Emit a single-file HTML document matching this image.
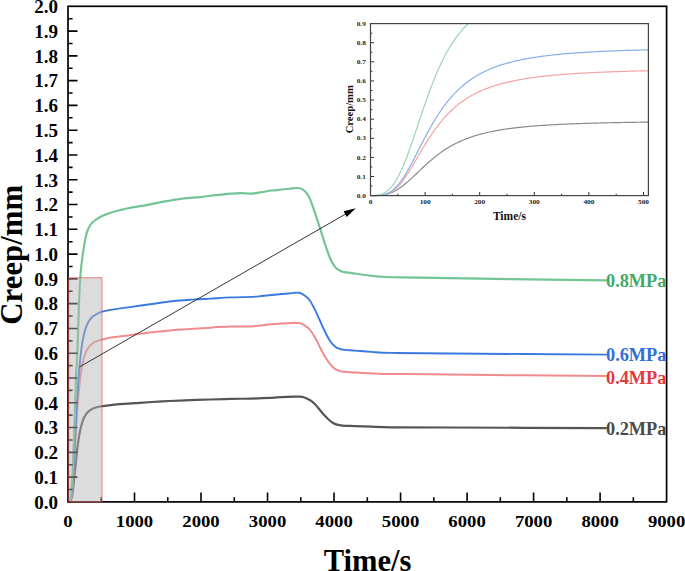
<!DOCTYPE html><html><head><meta charset="utf-8"><style>
html,body{margin:0;padding:0;background:#fff;width:685px;height:571px;overflow:hidden}
svg{display:block}
text{font-family:"Liberation Serif",serif;font-weight:bold}
</style></head><body>
<svg width="685" height="571" viewBox="0 0 685 571">
<g fill="none" stroke-linejoin="round" stroke-linecap="round">
<path d="M69.2,501.9C69.27,501.9 69.47,501.9 69.6,501.87C69.73,501.84 69.87,501.8 70,501.71C70.13,501.62 70.26,501.51 70.4,501.33C70.53,501.15 70.66,500.93 70.8,500.64C70.93,500.35 71.06,500.01 71.2,499.59C71.33,499.17 71.46,498.68 71.59,498.12C71.73,497.56 71.86,496.93 71.99,496.22C72.13,495.51 72.26,494.73 72.39,493.88C72.53,493.03 72.66,492.1 72.79,491.12C72.92,490.13 73.06,489.08 73.19,487.98C73.32,486.88 73.46,485.71 73.59,484.51C73.72,483.31 73.86,482.06 73.99,480.79C74.12,479.52 74.25,478.21 74.39,476.89C74.52,475.57 74.65,474.22 74.79,472.88C74.92,471.53 75.05,470.18 75.19,468.83C75.32,467.49 75.45,466.14 75.59,464.82C75.72,463.49 75.85,462.17 75.98,460.88C76.12,459.59 76.25,458.32 76.38,457.08C76.52,455.84 76.65,454.62 76.78,453.43C76.92,452.25 77.05,451.1 77.18,449.98C77.31,448.86 77.45,447.77 77.58,446.72C77.71,445.66 77.85,444.65 77.98,443.66C78.11,442.68 78.25,441.73 78.38,440.82C78.51,439.9 78.64,439.02 78.78,438.17C78.91,437.33 79.04,436.51 79.18,435.73C79.31,434.94 79.44,434.19 79.58,433.47C79.71,432.75 79.84,432.06 79.97,431.39C80.11,430.73 80.24,430.09 80.37,429.48C80.51,428.87 80.64,428.28 80.77,427.72C80.91,427.16 81.04,426.62 81.17,426.1C81.31,425.59 81.44,425.09 81.57,424.62C81.7,424.14 81.84,423.69 81.97,423.25C82.1,422.82 82.24,422.4 82.37,422C82.5,421.6 82.64,421.22 82.77,420.85C82.9,420.48 83.03,420.13 83.17,419.79C83.3,419.45 83.43,419.13 83.57,418.82C83.7,418.51 83.83,418.21 83.97,417.92C84.1,417.63 84.23,417.36 84.36,417.09C84.5,416.83 84.63,416.58 84.76,416.33C84.9,416.09 85.03,415.85 85.16,415.63C85.3,415.4 85.43,415.19 85.56,414.98C85.69,414.77 85.83,414.57 85.96,414.37C86.09,414.18 86.23,414 86.36,413.82C86.49,413.64 86.63,413.47 86.76,413.3C86.89,413.13 87.02,412.97 87.16,412.82C87.29,412.66 87.42,412.52 87.56,412.37C87.69,412.23 87.82,412.09 87.96,411.96C88.09,411.83 88.22,411.7 88.36,411.57C88.49,411.45 88.62,411.33 88.75,411.21C88.89,411.1 88.87,411.09 89.15,410.88C89.44,410.66 90.04,410.2 90.48,409.91C90.93,409.62 91.37,409.37 91.81,409.13C92.26,408.89 92.7,408.69 93.14,408.5C93.59,408.3 94.03,408.14 94.47,407.98C94.92,407.82 95.36,407.68 95.8,407.55C96.25,407.42 96.09,407.41 97.13,407.19C98.18,406.96 98.81,406.66 102.1,406.2C105.39,405.74 110.63,404.97 116.9,404.4C123.17,403.83 132.12,403.3 139.7,402.8C147.28,402.3 154.82,401.82 162.4,401.4C169.98,400.98 177.2,400.62 185.2,400.3C193.2,399.98 202.78,399.73 210.4,399.5C218.02,399.27 224.08,399.05 230.9,398.9C237.72,398.75 244.78,398.77 251.3,398.6C257.82,398.43 265.72,398.12 270,397.9C274.28,397.68 274.08,397.48 277,397.3C279.92,397.12 284.5,396.92 287.5,396.8C290.5,396.68 293.05,396.62 295,396.6C296.95,396.58 297.72,396.53 299.2,396.65C300.68,396.77 302.53,396.94 303.9,397.3C305.27,397.66 306.25,398.25 307.4,398.8C308.55,399.35 309.52,399.68 310.8,400.6C312.08,401.52 313.65,402.82 315.1,404.3C316.55,405.78 318.03,407.75 319.5,409.5C320.97,411.25 322.43,413.18 323.9,414.8C325.37,416.42 326.83,417.88 328.3,419.2C329.77,420.52 331.25,421.8 332.7,422.7C334.15,423.6 335.4,424.13 337,424.6C338.6,425.07 339.3,425.3 342.3,425.54C345.3,425.78 350.17,425.86 355,426.05C359.83,426.24 365.18,426.49 371.3,426.7C377.42,426.91 378.58,427.17 391.7,427.3C404.82,427.43 414.28,427.37 450,427.5C485.72,427.63 580,428 606,428.1" stroke="#555555" stroke-width="2.2"/>
<path d="M69.2,501.9C69.27,501.89 69.47,501.91 69.6,501.86C69.73,501.82 69.87,501.77 70,501.63C70.13,501.49 70.26,501.32 70.4,501.04C70.53,500.76 70.66,500.42 70.8,499.95C70.93,499.49 71.06,498.93 71.2,498.24C71.33,497.56 71.46,496.76 71.59,495.83C71.73,494.89 71.86,493.83 71.99,492.64C72.13,491.45 72.26,490.12 72.39,488.67C72.53,487.22 72.66,485.63 72.79,483.93C72.92,482.24 73.06,480.41 73.19,478.5C73.32,476.59 73.46,474.55 73.59,472.46C73.72,470.37 73.86,468.17 73.99,465.94C74.12,463.71 74.25,461.4 74.39,459.08C74.52,456.75 74.65,454.38 74.79,452.01C74.92,449.64 75.05,447.25 75.19,444.88C75.32,442.51 75.45,440.14 75.59,437.8C75.72,435.47 75.85,433.15 75.98,430.89C76.12,428.62 76.25,426.39 76.38,424.21C76.52,422.04 76.65,419.91 76.78,417.84C76.92,415.77 77.05,413.76 77.18,411.81C77.31,409.87 77.45,407.98 77.58,406.16C77.71,404.34 77.85,402.58 77.98,400.88C78.11,399.19 78.25,397.56 78.38,395.99C78.51,394.42 78.64,392.92 78.78,391.47C78.91,390.03 79.04,388.64 79.18,387.31C79.31,385.98 79.44,384.71 79.58,383.49C79.71,382.27 79.84,381.1 79.97,379.98C80.11,378.87 80.24,377.8 80.37,376.78C80.51,375.75 80.64,374.78 80.77,373.84C80.91,372.9 81.04,372.01 81.17,371.16C81.31,370.3 81.44,369.49 81.57,368.7C81.7,367.92 81.84,367.17 81.97,366.46C82.1,365.74 82.24,365.06 82.37,364.41C82.5,363.75 82.64,363.13 82.77,362.53C82.9,361.93 83.03,361.36 83.17,360.81C83.3,360.26 83.43,359.74 83.57,359.23C83.7,358.73 83.83,358.25 83.97,357.79C84.1,357.32 84.23,356.88 84.36,356.46C84.5,356.03 84.63,355.63 84.76,355.24C84.9,354.85 85.03,354.47 85.16,354.11C85.3,353.76 85.43,353.41 85.56,353.08C85.69,352.75 85.83,352.43 85.96,352.13C86.09,351.82 86.23,351.53 86.36,351.25C86.49,350.96 86.63,350.69 86.76,350.43C86.89,350.17 87.02,349.92 87.16,349.68C87.29,349.44 87.42,349.2 87.56,348.98C87.69,348.76 87.82,348.54 87.96,348.33C88.09,348.12 88.22,347.92 88.36,347.73C88.49,347.54 88.62,347.35 88.75,347.17C88.89,346.99 88.87,346.99 89.15,346.65C89.44,346.32 90.04,345.61 90.48,345.16C90.93,344.71 91.37,344.33 91.81,343.97C92.26,343.61 92.7,343.3 93.14,343.01C93.59,342.72 94.03,342.46 94.47,342.22C94.92,341.99 95.36,341.78 95.8,341.58C96.25,341.38 96.12,341.37 97.13,341.04C98.15,340.72 99.57,340.23 101.9,339.64C104.23,339.05 106.17,338.29 111.1,337.5C116.03,336.71 124.68,335.78 131.5,334.89C138.32,334 145.18,332.96 152,332.17C158.82,331.38 166.07,330.68 172.4,330.16C178.73,329.64 183.67,329.47 190,329.05C196.33,328.63 203.58,328.03 210.4,327.63C217.22,327.23 224.08,326.82 230.9,326.62C237.72,326.42 244.5,326.8 251.3,326.41C258.1,326.02 264.88,324.86 271.7,324.27C278.52,323.68 288.32,323.09 292.2,322.9C296.08,322.7 293.7,323.05 295,323.1C296.3,323.15 298.33,322.77 300,323.2C301.67,323.63 303.33,324.58 305,325.7C306.67,326.82 308.33,327.95 310,329.9C311.67,331.85 313.33,334.5 315,337.4C316.67,340.3 318.35,344.12 320,347.3C321.65,350.48 323.25,353.73 324.9,356.5C326.55,359.27 328.23,361.83 329.9,363.9C331.57,365.97 333.23,367.7 334.9,368.9C336.57,370.1 338.23,370.62 339.9,371.1C341.57,371.58 342.38,371.59 344.9,371.8C347.42,372.01 352.3,372.19 355,372.38C357.7,372.57 356.68,372.66 361.1,372.93C365.52,373.2 374.68,373.82 381.5,374C388.32,374.18 390.58,373.9 402,374C413.42,374.1 416,374.25 450,374.6C484,374.95 580,375.85 606,376.1" stroke="#f08c8c" stroke-width="2"/>
<path d="M69.2,501.9C69.27,501.89 69.47,501.91 69.6,501.86C69.73,501.81 69.87,501.76 70,501.62C70.13,501.47 70.26,501.29 70.4,500.99C70.53,500.69 70.66,500.33 70.8,499.82C70.93,499.32 71.06,498.73 71.2,497.99C71.33,497.24 71.46,496.38 71.59,495.37C71.73,494.35 71.86,493.2 71.99,491.9C72.13,490.59 72.26,489.14 72.39,487.54C72.53,485.95 72.66,484.2 72.79,482.32C72.92,480.44 73.06,478.42 73.19,476.29C73.32,474.15 73.46,471.88 73.59,469.54C73.72,467.19 73.86,464.72 73.99,462.2C74.12,459.68 74.25,457.07 74.39,454.43C74.52,451.79 74.65,449.08 74.79,446.37C74.92,443.67 75.05,440.91 75.19,438.19C75.32,435.46 75.45,432.72 75.59,430.01C75.72,427.31 75.85,424.62 75.98,421.98C76.12,419.34 76.25,416.72 76.38,414.17C76.52,411.63 76.65,409.12 76.78,406.69C76.92,404.25 77.05,401.88 77.18,399.57C77.31,397.27 77.45,395.03 77.58,392.86C77.71,390.7 77.85,388.6 77.98,386.58C78.11,384.56 78.25,382.61 78.38,380.74C78.51,378.86 78.64,377.05 78.78,375.32C78.91,373.58 79.04,371.91 79.18,370.31C79.31,368.71 79.44,367.17 79.58,365.7C79.71,364.22 79.84,362.82 79.97,361.46C80.11,360.11 80.24,358.82 80.37,357.58C80.51,356.33 80.64,355.15 80.77,354.01C80.91,352.88 81.04,351.79 81.17,350.75C81.31,349.71 81.44,348.72 81.57,347.76C81.7,346.81 81.84,345.9 81.97,345.03C82.1,344.16 82.24,343.33 82.37,342.53C82.5,341.73 82.64,340.96 82.77,340.23C82.9,339.5 83.03,338.8 83.17,338.13C83.3,337.46 83.43,336.82 83.57,336.2C83.7,335.59 83.83,335 83.97,334.43C84.1,333.87 84.23,333.33 84.36,332.81C84.5,332.29 84.63,331.79 84.76,331.31C84.9,330.83 85.03,330.38 85.16,329.93C85.3,329.49 85.43,329.07 85.56,328.67C85.69,328.26 85.83,327.87 85.96,327.5C86.09,327.12 86.23,326.76 86.36,326.42C86.49,326.07 86.63,325.74 86.76,325.42C86.89,325.1 87.02,324.79 87.16,324.49C87.29,324.2 87.42,323.91 87.56,323.64C87.69,323.36 87.82,323.1 87.96,322.84C88.09,322.59 88.22,322.34 88.36,322.11C88.49,321.87 88.62,321.64 88.75,321.42C88.89,321.2 88.87,321.19 89.15,320.78C89.44,320.37 90.04,319.5 90.48,318.95C90.93,318.4 91.37,317.93 91.81,317.49C92.26,317.05 92.7,316.67 93.14,316.31C93.59,315.96 94.03,315.65 94.47,315.35C94.92,315.06 95.36,314.8 95.8,314.56C96.25,314.32 96.12,314.39 97.13,313.91C98.15,313.43 99.57,312.37 101.9,311.7C104.23,311.03 106.17,310.7 111.1,309.9C116.03,309.09 124.68,307.86 131.5,306.87C138.32,305.88 145.18,304.88 152,303.94C158.82,303 165.6,301.95 172.4,301.23C179.2,300.51 186.47,300.06 192.8,299.62C199.13,299.18 204.05,298.97 210.4,298.6C216.75,298.23 224.08,297.68 230.9,297.4C237.72,297.12 246.2,297.12 251.3,296.9C256.4,296.68 258.1,296.38 261.5,296.07C264.9,295.76 268.28,295.4 271.7,295.07C275.12,294.74 278.58,294.39 282,294.06C285.42,293.73 290.03,293.33 292.2,293.1C294.37,292.87 293.7,292.72 295,292.7C296.3,292.68 298.33,292.48 300,293C301.67,293.52 303.33,294.5 305,295.8C306.67,297.1 308.33,298.45 310,300.8C311.67,303.15 313.33,306.58 315,309.9C316.67,313.22 318.35,317.1 320,320.7C321.65,324.3 323.25,328.17 324.9,331.5C326.55,334.83 328.23,338.2 329.9,340.7C331.57,343.2 333.23,345.12 334.9,346.5C336.57,347.88 338.23,348.43 339.9,349C341.57,349.57 342.38,349.63 344.9,349.9C347.42,350.17 350.6,350.27 355,350.6C359.4,350.93 365.18,351.52 371.3,351.9C377.42,352.28 378.58,352.63 391.7,352.9C404.82,353.17 414.28,353.22 450,353.5C485.72,353.78 580,354.42 606,354.6" stroke="#3a7ae0" stroke-width="1.9"/>
<path d="M69.2,501.9C69.27,501.88 69.47,501.91 69.6,501.79C69.73,501.68 69.87,501.53 70,501.21C70.13,500.89 70.26,500.48 70.4,499.87C70.53,499.26 70.66,498.52 70.8,497.56C70.93,496.6 71.06,495.47 71.2,494.11C71.33,492.75 71.46,491.2 71.59,489.42C71.73,487.65 71.86,485.66 71.99,483.46C72.13,481.27 72.26,478.85 72.39,476.25C72.53,473.65 72.66,470.83 72.79,467.87C72.92,464.9 73.06,461.73 73.19,458.45C73.32,455.17 73.46,451.71 73.59,448.17C73.72,444.64 73.86,440.96 73.99,437.24C74.12,433.52 74.25,429.69 74.39,425.86C74.52,422.02 74.65,418.12 74.79,414.24C74.92,410.35 75.05,406.44 75.19,402.57C75.32,398.7 75.45,394.83 75.59,391.02C75.72,387.22 75.85,383.44 75.98,379.74C76.12,376.05 76.23,371.59 76.38,368.85C76.54,366.1 76.63,369.12 76.9,363.3C77.17,357.48 77.65,344.05 78,333.9C78.35,323.75 78.62,311.83 79,302.4C79.38,292.97 79.85,283.93 80.3,277.3C80.75,270.67 81.13,267.4 81.7,262.6C82.27,257.8 83.12,252.35 83.7,248.5C84.28,244.65 84.68,242.15 85.2,239.5C85.72,236.85 86.18,234.64 86.8,232.63C87.42,230.62 88.02,229.05 88.9,227.42C89.78,225.79 90.87,224.19 92.1,222.84C93.33,221.49 94.73,220.41 96.3,219.31C97.87,218.21 99.75,217.1 101.5,216.24C103.25,215.38 105.05,214.81 106.8,214.15C108.55,213.49 109.9,212.94 112,212.3C114.1,211.66 116.4,211.03 119.4,210.3C122.4,209.57 125.3,208.8 130,207.9C134.7,207 141.77,205.98 147.6,204.9C153.43,203.82 159.17,202.46 165,201.4C170.83,200.34 176.73,199.27 182.6,198.55C188.47,197.83 194.8,197.66 200.2,197.1C205.6,196.54 211.58,195.62 215,195.2C218.42,194.78 218.05,194.87 220.7,194.6C223.35,194.33 227.5,193.83 230.9,193.6C234.3,193.37 237.7,193.2 241.1,193.2C244.5,193.2 247.9,193.77 251.3,193.6C254.7,193.43 258.1,192.72 261.5,192.2C264.9,191.68 268.28,190.95 271.7,190.5C275.12,190.05 278.95,189.8 282,189.5C285.05,189.2 287.5,188.95 290,188.7C292.5,188.45 294.97,187.93 297,188C299.03,188.07 300.6,188.29 302.2,189.14C303.8,189.99 305.28,191.42 306.6,193.1C307.92,194.78 308.93,196.57 310.1,199.2C311.27,201.83 312.43,205.53 313.6,208.9C314.77,212.27 315.93,215.9 317.1,219.4C318.27,222.9 319.43,226.27 320.6,229.9C321.77,233.53 322.93,237.57 324.1,241.2C325.27,244.83 326.43,248.48 327.6,251.7C328.77,254.92 329.78,257.87 331.1,260.5C332.42,263.13 333.9,265.75 335.5,267.5C337.1,269.25 338.95,270.18 340.7,271C342.45,271.82 344.12,272.06 346,272.41C347.88,272.76 348.43,272.6 352,273.08C355.57,273.56 361.62,274.62 367.4,275.27C373.18,275.92 378.02,276.61 386.7,277C395.38,277.39 398.88,277.23 419.5,277.6C440.12,277.97 479.32,278.73 510.4,279.2C541.48,279.67 590.07,280.2 606,280.4" stroke="#74c596" stroke-width="2.2"/>
</g>
<path d="M68,489.51h4.6M68,477.12h9.5M68,464.73h4.6M68,452.34h9.5M68,439.95h4.6M68,427.56h9.5M68,415.17h4.6M68,402.78h9.5M68,390.39h4.6M68,378h9.5M68,365.61h4.6M68,353.22h9.5M68,340.83h4.6M68,328.44h9.5M68,316.05h4.6M68,303.66h9.5M68,291.27h4.6M68,278.88h9.5M68,266.49h4.6M68,254.1h9.5M68,241.71h4.6M68,229.32h9.5M68,216.93h4.6M68,204.54h9.5M68,192.15h4.6M68,179.76h9.5M68,167.37h4.6M68,154.98h9.5M68,142.59h4.6M68,130.2h9.5M68,117.81h4.6M68,105.42h9.5M68,93.03h4.6M68,80.64h9.5M68,68.25h4.6M68,55.86h9.5M68,43.47h4.6M68,31.08h9.5M68,18.69h4.6M101.26,501.9v-4.6M134.51,501.9v-9.5M167.77,501.9v-4.6M201.02,501.9v-9.5M234.28,501.9v-4.6M267.53,501.9v-9.5M300.79,501.9v-4.6M334.04,501.9v-9.5M367.3,501.9v-4.6M400.56,501.9v-9.5M433.81,501.9v-4.6M467.07,501.9v-9.5M500.32,501.9v-4.6M533.58,501.9v-9.5M566.83,501.9v-4.6M600.09,501.9v-9.5M633.34,501.9v-4.6" stroke="#000" stroke-width="1.6" fill="none"/>
<rect x="68" y="6.3" width="598.6" height="495.6" fill="none" stroke="#000" stroke-width="1.7"/>
<rect x="68.6" y="277.7" width="33.4" height="224.2" fill="rgba(181,181,181,0.47)" stroke="rgba(230,50,50,0.45)" stroke-width="1.3"/>
<text transform="translate(58.1,508.7) scale(1.06,1)" font-size="18" text-anchor="end">0.0</text>
<text transform="translate(58.1,483.92) scale(1.06,1)" font-size="18" text-anchor="end">0.1</text>
<text transform="translate(58.1,459.14) scale(1.06,1)" font-size="18" text-anchor="end">0.2</text>
<text transform="translate(58.1,434.36) scale(1.06,1)" font-size="18" text-anchor="end">0.3</text>
<text transform="translate(58.1,409.58) scale(1.06,1)" font-size="18" text-anchor="end">0.4</text>
<text transform="translate(58.1,384.8) scale(1.06,1)" font-size="18" text-anchor="end">0.5</text>
<text transform="translate(58.1,360.02) scale(1.06,1)" font-size="18" text-anchor="end">0.6</text>
<text transform="translate(58.1,335.24) scale(1.06,1)" font-size="18" text-anchor="end">0.7</text>
<text transform="translate(58.1,310.46) scale(1.06,1)" font-size="18" text-anchor="end">0.8</text>
<text transform="translate(58.1,285.68) scale(1.06,1)" font-size="18" text-anchor="end">0.9</text>
<text transform="translate(58.1,260.9) scale(1.06,1)" font-size="18" text-anchor="end">1.0</text>
<text transform="translate(58.1,236.12) scale(1.06,1)" font-size="18" text-anchor="end">1.1</text>
<text transform="translate(58.1,211.34) scale(1.06,1)" font-size="18" text-anchor="end">1.2</text>
<text transform="translate(58.1,186.56) scale(1.06,1)" font-size="18" text-anchor="end">1.3</text>
<text transform="translate(58.1,161.78) scale(1.06,1)" font-size="18" text-anchor="end">1.4</text>
<text transform="translate(58.1,137) scale(1.06,1)" font-size="18" text-anchor="end">1.5</text>
<text transform="translate(58.1,112.22) scale(1.06,1)" font-size="18" text-anchor="end">1.6</text>
<text transform="translate(58.1,87.44) scale(1.06,1)" font-size="18" text-anchor="end">1.7</text>
<text transform="translate(58.1,62.66) scale(1.06,1)" font-size="18" text-anchor="end">1.8</text>
<text transform="translate(58.1,37.88) scale(1.06,1)" font-size="18" text-anchor="end">1.9</text>
<text transform="translate(58.1,13.1) scale(1.06,1)" font-size="18" text-anchor="end">2.0</text>
<text transform="translate(68,527.3) scale(1.04,0.98)" font-size="18" text-anchor="middle">0</text>
<text transform="translate(134.51,527.3) scale(1.04,0.98)" font-size="18" text-anchor="middle">1000</text>
<text transform="translate(201.02,527.3) scale(1.04,0.98)" font-size="18" text-anchor="middle">2000</text>
<text transform="translate(267.53,527.3) scale(1.04,0.98)" font-size="18" text-anchor="middle">3000</text>
<text transform="translate(334.04,527.3) scale(1.04,0.98)" font-size="18" text-anchor="middle">4000</text>
<text transform="translate(400.56,527.3) scale(1.04,0.98)" font-size="18" text-anchor="middle">5000</text>
<text transform="translate(467.07,527.3) scale(1.04,0.98)" font-size="18" text-anchor="middle">6000</text>
<text transform="translate(533.58,527.3) scale(1.04,0.98)" font-size="18" text-anchor="middle">7000</text>
<text transform="translate(600.09,527.3) scale(1.04,0.98)" font-size="18" text-anchor="middle">8000</text>
<text transform="translate(666.6,527.3) scale(1.04,0.98)" font-size="18" text-anchor="middle">9000</text>
<text transform="translate(367.6,570.8) scale(0.97,1)" font-size="31.5" text-anchor="middle">Time/s</text>
<text transform="translate(22.3,254.8) rotate(-90)" font-size="30.8" text-anchor="middle">Creep/mm</text>
<text x="606" y="286.9" font-size="18.3" fill="#3faa6c">0.8MPa</text>
<text x="606" y="361.0" font-size="18.3" fill="#2f6fdc">0.6MPa</text>
<text x="606" y="383.5" font-size="18.3" fill="#e8383f">0.4MPa</text>
<text x="606" y="434.8" font-size="18.3" fill="#4a4a4a">0.2MPa</text>
<line x1="79.4" y1="367" x2="346" y2="213.8" stroke="#333" stroke-width="1"/>
<path d="M355.8,208.2 L343.6,211.3 L346.7,217.1 Z" fill="#000"/>
<g fill="none" stroke-linejoin="round">
<path d="M370.5,195.6 L371.59,195.6 L372.68,195.6 L373.78,195.59 L374.87,195.57 L375.96,195.55 L377.05,195.51 L378.14,195.45 L379.24,195.38 L380.33,195.28 L381.42,195.17 L382.51,195.02 L383.6,194.85 L384.7,194.64 L385.79,194.41 L386.88,194.13 L387.97,193.83 L389.06,193.48 L390.16,193.1 L391.25,192.68 L392.34,192.22 L393.43,191.71 L394.52,191.17 L395.62,190.59 L396.71,189.97 L397.8,189.3 L398.89,188.61 L399.98,187.87 L401.08,187.1 L402.17,186.29 L403.26,185.46 L404.35,184.59 L405.44,183.7 L406.54,182.78 L407.63,181.84 L408.72,180.87 L409.81,179.89 L410.9,178.89 L412,177.88 L413.09,176.86 L414.18,175.83 L415.27,174.79 L416.36,173.75 L417.46,172.7 L418.55,171.66 L419.64,170.61 L420.73,169.57 L421.82,168.53 L422.92,167.51 L424.01,166.48 L425.1,165.47 L426.19,164.47 L427.28,163.48 L428.38,162.51 L429.47,161.55 L430.56,160.6 L431.65,159.67 L432.74,158.75 L433.84,157.85 L434.93,156.97 L436.02,156.1 L437.11,155.25 L438.2,154.42 L439.3,153.61 L440.39,152.81 L441.48,152.04 L442.57,151.28 L443.66,150.53 L444.76,149.81 L445.85,149.1 L446.94,148.42 L448.03,147.74 L449.12,147.09 L450.22,146.45 L451.31,145.83 L452.4,145.22 L453.49,144.63 L454.58,144.06 L455.68,143.5 L456.77,142.96 L457.86,142.43 L458.95,141.91 L460.04,141.41 L461.14,140.93 L462.23,140.45 L463.32,139.99 L464.41,139.54 L465.5,139.11 L466.6,138.68 L467.69,138.27 L468.78,137.87 L469.87,137.48 L470.96,137.1 L472.06,136.73 L473.15,136.37 L474.24,136.02 L475.33,135.68 L476.42,135.35 L477.52,135.03 L478.61,134.71 L479.7,134.41 L480.79,134.11 L481.88,133.82 L482.98,133.54 L484.07,133.27 L485.16,133.01 L486.25,132.75 L487.34,132.49 L488.44,132.25 L489.53,132.01 L490.62,131.78 L491.71,131.55 L492.8,131.33 L493.9,131.12 L494.99,130.91 L496.08,130.7 L497.17,130.51 L498.26,130.31 L499.36,130.12 L500.45,129.94 L501.54,129.76 L502.63,129.59 L503.72,129.42 L504.82,129.25 L505.91,129.09 L507,128.93 L508.09,128.78 L509.18,128.63 L510.28,128.48 L511.37,128.34 L512.46,128.2 L513.55,128.06 L514.64,127.93 L515.74,127.8 L516.83,127.67 L517.92,127.55 L519.01,127.43 L520.1,127.31 L521.2,127.19 L522.29,127.08 L523.38,126.97 L524.47,126.86 L525.56,126.76 L526.66,126.65 L527.75,126.55 L528.84,126.45 L529.93,126.36 L531.02,126.27 L532.12,126.17 L533.21,126.08 L534.3,126 L535.39,125.91 L536.48,125.83 L537.58,125.74 L538.67,125.66 L539.76,125.58 L540.85,125.51 L541.94,125.43 L543.04,125.36 L544.13,125.29 L545.22,125.22 L546.31,125.15 L547.4,125.08 L548.5,125.01 L549.59,124.95 L550.68,124.88 L551.77,124.82 L552.86,124.76 L553.96,124.7 L555.05,124.64 L556.14,124.58 L557.23,124.53 L558.32,124.47 L559.42,124.42 L560.51,124.36 L561.6,124.31 L562.69,124.26 L563.78,124.21 L564.88,124.16 L565.97,124.11 L567.06,124.06 L568.15,124.02 L569.24,123.97 L570.34,123.93 L571.43,123.88 L572.52,123.84 L573.61,123.8 L574.7,123.76 L575.8,123.72 L576.89,123.68 L577.98,123.64 L579.07,123.6 L580.16,123.56 L581.26,123.52 L582.35,123.49 L583.44,123.45 L584.53,123.41 L585.62,123.38 L586.72,123.35 L587.81,123.31 L588.9,123.28 L589.99,123.25 L591.08,123.22 L592.18,123.18 L593.27,123.15 L594.36,123.12 L595.45,123.09 L596.54,123.06 L597.64,123.04 L598.73,123.01 L599.82,122.98 L600.91,122.95 L602,122.93 L603.1,122.9 L604.19,122.87 L605.28,122.85 L606.37,122.82 L607.46,122.8 L608.56,122.77 L609.65,122.75 L610.74,122.73 L611.83,122.7 L612.92,122.68 L614.02,122.66 L615.11,122.64 L616.2,122.61 L617.29,122.59 L618.38,122.57 L619.48,122.55 L620.57,122.53 L621.66,122.51 L622.75,122.49 L623.84,122.47 L624.94,122.45 L626.03,122.43 L627.12,122.41 L628.21,122.4 L629.3,122.38 L630.4,122.36 L631.49,122.34 L632.58,122.33 L633.67,122.31 L634.76,122.29 L635.86,122.28 L636.95,122.26 L638.04,122.24 L639.13,122.23 L640.22,122.21 L641.32,122.2 L642.41,122.18 L643.5,122.17 L644.59,122.15 L645.68,122.14 L646.78,122.12 L647.87,122.11 L648.96,122.09" stroke="#8a8a8a" stroke-width="1.2"/>
<path d="M370.5,195.6 L371.59,195.6 L372.68,195.6 L373.78,195.6 L374.87,195.59 L375.96,195.58 L377.05,195.55 L378.14,195.52 L379.24,195.46 L380.33,195.38 L381.42,195.27 L382.51,195.13 L383.6,194.95 L384.7,194.72 L385.79,194.44 L386.88,194.11 L387.97,193.71 L389.06,193.25 L390.16,192.71 L391.25,192.11 L392.34,191.42 L393.43,190.66 L394.52,189.81 L395.62,188.89 L396.71,187.88 L397.8,186.79 L398.89,185.62 L399.98,184.37 L401.08,183.05 L402.17,181.66 L403.26,180.2 L404.35,178.68 L405.44,177.1 L406.54,175.46 L407.63,173.78 L408.72,172.05 L409.81,170.29 L410.9,168.49 L412,166.67 L413.09,164.83 L414.18,162.97 L415.27,161.1 L416.36,159.22 L417.46,157.34 L418.55,155.46 L419.64,153.58 L420.73,151.72 L421.82,149.87 L422.92,148.03 L424.01,146.22 L425.1,144.42 L426.19,142.65 L427.28,140.9 L428.38,139.18 L429.47,137.49 L430.56,135.83 L431.65,134.2 L432.74,132.6 L433.84,131.03 L434.93,129.5 L436.02,128 L437.11,126.54 L438.2,125.1 L439.3,123.7 L440.39,122.34 L441.48,121.01 L442.57,119.71 L443.66,118.44 L444.76,117.21 L445.85,116.01 L446.94,114.84 L448.03,113.7 L449.12,112.59 L450.22,111.51 L451.31,110.47 L452.4,109.45 L453.49,108.45 L454.58,107.49 L455.68,106.55 L456.77,105.64 L457.86,104.75 L458.95,103.89 L460.04,103.05 L461.14,102.24 L462.23,101.45 L463.32,100.68 L464.41,99.93 L465.5,99.2 L466.6,98.5 L467.69,97.81 L468.78,97.14 L469.87,96.5 L470.96,95.86 L472.06,95.25 L473.15,94.66 L474.24,94.08 L475.33,93.51 L476.42,92.96 L477.52,92.43 L478.61,91.91 L479.7,91.41 L480.79,90.91 L481.88,90.44 L482.98,89.97 L484.07,89.52 L485.16,89.08 L486.25,88.65 L487.34,88.23 L488.44,87.83 L489.53,87.43 L490.62,87.05 L491.71,86.67 L492.8,86.3 L493.9,85.95 L494.99,85.6 L496.08,85.26 L497.17,84.93 L498.26,84.61 L499.36,84.3 L500.45,83.99 L501.54,83.7 L502.63,83.41 L503.72,83.12 L504.82,82.85 L505.91,82.58 L507,82.32 L508.09,82.06 L509.18,81.81 L510.28,81.56 L511.37,81.33 L512.46,81.09 L513.55,80.87 L514.64,80.64 L515.74,80.43 L516.83,80.22 L517.92,80.01 L519.01,79.81 L520.1,79.61 L521.2,79.42 L522.29,79.23 L523.38,79.04 L524.47,78.86 L525.56,78.69 L526.66,78.51 L527.75,78.35 L528.84,78.18 L529.93,78.02 L531.02,77.86 L532.12,77.71 L533.21,77.56 L534.3,77.41 L535.39,77.27 L536.48,77.12 L537.58,76.99 L538.67,76.85 L539.76,76.72 L540.85,76.59 L541.94,76.46 L543.04,76.34 L544.13,76.21 L545.22,76.09 L546.31,75.98 L547.4,75.86 L548.5,75.75 L549.59,75.64 L550.68,75.53 L551.77,75.42 L552.86,75.32 L553.96,75.22 L555.05,75.12 L556.14,75.02 L557.23,74.93 L558.32,74.83 L559.42,74.74 L560.51,74.65 L561.6,74.56 L562.69,74.47 L563.78,74.39 L564.88,74.3 L565.97,74.22 L567.06,74.14 L568.15,74.06 L569.24,73.98 L570.34,73.9 L571.43,73.83 L572.52,73.76 L573.61,73.68 L574.7,73.61 L575.8,73.54 L576.89,73.47 L577.98,73.41 L579.07,73.34 L580.16,73.27 L581.26,73.21 L582.35,73.15 L583.44,73.09 L584.53,73.03 L585.62,72.97 L586.72,72.91 L587.81,72.85 L588.9,72.79 L589.99,72.74 L591.08,72.68 L592.18,72.63 L593.27,72.57 L594.36,72.52 L595.45,72.47 L596.54,72.42 L597.64,72.37 L598.73,72.32 L599.82,72.27 L600.91,72.23 L602,72.18 L603.1,72.13 L604.19,72.09 L605.28,72.05 L606.37,72 L607.46,71.96 L608.56,71.92 L609.65,71.87 L610.74,71.83 L611.83,71.79 L612.92,71.75 L614.02,71.71 L615.11,71.68 L616.2,71.64 L617.29,71.6 L618.38,71.56 L619.48,71.53 L620.57,71.49 L621.66,71.46 L622.75,71.42 L623.84,71.39 L624.94,71.35 L626.03,71.32 L627.12,71.29 L628.21,71.26 L629.3,71.22 L630.4,71.19 L631.49,71.16 L632.58,71.13 L633.67,71.1 L634.76,71.07 L635.86,71.04 L636.95,71.01 L638.04,70.99 L639.13,70.96 L640.22,70.93 L641.32,70.9 L642.41,70.88 L643.5,70.85 L644.59,70.82 L645.68,70.8 L646.78,70.77 L647.87,70.75 L648.96,70.72" stroke="#f5a3a3" stroke-width="1.2"/>
<path d="M370.5,195.6 L371.59,195.6 L372.68,195.6 L373.78,195.59 L374.87,195.58 L375.96,195.55 L377.05,195.51 L378.14,195.45 L379.24,195.37 L380.33,195.25 L381.42,195.1 L382.51,194.9 L383.6,194.66 L384.7,194.36 L385.79,194.01 L386.88,193.59 L387.97,193.1 L389.06,192.54 L390.16,191.91 L391.25,191.2 L392.34,190.4 L393.43,189.52 L394.52,188.55 L395.62,187.5 L396.71,186.36 L397.8,185.14 L398.89,183.83 L399.98,182.44 L401.08,180.96 L402.17,179.41 L403.26,177.79 L404.35,176.09 L405.44,174.33 L406.54,172.51 L407.63,170.63 L408.72,168.7 L409.81,166.73 L410.9,164.72 L412,162.67 L413.09,160.59 L414.18,158.49 L415.27,156.37 L416.36,154.24 L417.46,152.1 L418.55,149.95 L419.64,147.81 L420.73,145.67 L421.82,143.54 L422.92,141.42 L424.01,139.32 L425.1,137.24 L426.19,135.18 L427.28,133.14 L428.38,131.13 L429.47,129.15 L430.56,127.2 L431.65,125.29 L432.74,123.4 L433.84,121.55 L434.93,119.74 L436.02,117.96 L437.11,116.23 L438.2,114.52 L439.3,112.86 L440.39,111.23 L441.48,109.64 L442.57,108.09 L443.66,106.58 L444.76,105.11 L445.85,103.67 L446.94,102.26 L448.03,100.9 L449.12,99.57 L450.22,98.27 L451.31,97.01 L452.4,95.79 L453.49,94.59 L454.58,93.43 L455.68,92.3 L456.77,91.2 L457.86,90.13 L458.95,89.09 L460.04,88.09 L461.14,87.1 L462.23,86.15 L463.32,85.22 L464.41,84.32 L465.5,83.44 L466.6,82.59 L467.69,81.76 L468.78,80.96 L469.87,80.18 L470.96,79.42 L472.06,78.68 L473.15,77.96 L474.24,77.26 L475.33,76.58 L476.42,75.92 L477.52,75.28 L478.61,74.66 L479.7,74.05 L480.79,73.46 L481.88,72.89 L482.98,72.33 L484.07,71.79 L485.16,71.26 L486.25,70.74 L487.34,70.24 L488.44,69.76 L489.53,69.28 L490.62,68.82 L491.71,68.37 L492.8,67.94 L493.9,67.51 L494.99,67.1 L496.08,66.69 L497.17,66.3 L498.26,65.92 L499.36,65.54 L500.45,65.18 L501.54,64.83 L502.63,64.48 L503.72,64.14 L504.82,63.82 L505.91,63.5 L507,63.18 L508.09,62.88 L509.18,62.58 L510.28,62.3 L511.37,62.01 L512.46,61.74 L513.55,61.47 L514.64,61.21 L515.74,60.95 L516.83,60.7 L517.92,60.46 L519.01,60.22 L520.1,59.99 L521.2,59.76 L522.29,59.54 L523.38,59.32 L524.47,59.11 L525.56,58.9 L526.66,58.7 L527.75,58.5 L528.84,58.31 L529.93,58.12 L531.02,57.94 L532.12,57.76 L533.21,57.58 L534.3,57.41 L535.39,57.24 L536.48,57.08 L537.58,56.91 L538.67,56.76 L539.76,56.6 L540.85,56.45 L541.94,56.3 L543.04,56.16 L544.13,56.02 L545.22,55.88 L546.31,55.74 L547.4,55.61 L548.5,55.48 L549.59,55.35 L550.68,55.23 L551.77,55.1 L552.86,54.98 L553.96,54.87 L555.05,54.75 L556.14,54.64 L557.23,54.53 L558.32,54.42 L559.42,54.31 L560.51,54.21 L561.6,54.11 L562.69,54.01 L563.78,53.91 L564.88,53.81 L565.97,53.72 L567.06,53.62 L568.15,53.53 L569.24,53.44 L570.34,53.36 L571.43,53.27 L572.52,53.19 L573.61,53.1 L574.7,53.02 L575.8,52.94 L576.89,52.86 L577.98,52.79 L579.07,52.71 L580.16,52.64 L581.26,52.57 L582.35,52.49 L583.44,52.42 L584.53,52.35 L585.62,52.29 L586.72,52.22 L587.81,52.16 L588.9,52.09 L589.99,52.03 L591.08,51.97 L592.18,51.9 L593.27,51.84 L594.36,51.79 L595.45,51.73 L596.54,51.67 L597.64,51.61 L598.73,51.56 L599.82,51.51 L600.91,51.45 L602,51.4 L603.1,51.35 L604.19,51.3 L605.28,51.25 L606.37,51.2 L607.46,51.15 L608.56,51.1 L609.65,51.06 L610.74,51.01 L611.83,50.97 L612.92,50.92 L614.02,50.88 L615.11,50.83 L616.2,50.79 L617.29,50.75 L618.38,50.71 L619.48,50.67 L620.57,50.63 L621.66,50.59 L622.75,50.55 L623.84,50.51 L624.94,50.48 L626.03,50.44 L627.12,50.4 L628.21,50.37 L629.3,50.33 L630.4,50.3 L631.49,50.26 L632.58,50.23 L633.67,50.2 L634.76,50.16 L635.86,50.13 L636.95,50.1 L638.04,50.07 L639.13,50.04 L640.22,50.01 L641.32,49.98 L642.41,49.95 L643.5,49.92 L644.59,49.89 L645.68,49.86 L646.78,49.83 L647.87,49.8 L648.96,49.78" stroke="#86aeea" stroke-width="1.2"/>
<path d="M370.5,195.6 L371.59,195.6 L372.68,195.59 L373.78,195.57 L374.87,195.52 L375.96,195.44 L377.05,195.33 L378.14,195.17 L379.24,194.95 L380.33,194.68 L381.42,194.34 L382.51,193.92 L383.6,193.42 L384.7,192.84 L385.79,192.16 L386.88,191.39 L387.97,190.51 L389.06,189.52 L390.16,188.42 L391.25,187.2 L392.34,185.86 L393.43,184.4 L394.52,182.82 L395.62,181.11 L396.71,179.28 L397.8,177.33 L398.89,175.26 L399.98,173.06 L401.08,170.76 L402.17,168.34 L403.26,165.81 L404.35,163.18 L405.44,160.46 L406.54,157.65 L407.63,154.76 L408.72,151.79 L409.81,148.76 L410.9,145.66 L412,142.52 L413.09,139.33 L414.18,136.11 L415.27,132.86 L416.36,129.6 L417.46,126.32 L418.55,123.04 L419.64,119.76 L420.73,116.5 L421.82,113.25 L422.92,110.03 L424.01,106.83 L425.1,103.67 L426.19,100.55 L427.28,97.47 L428.38,94.44 L429.47,91.46 L430.56,88.53 L431.65,85.66 L432.74,82.85 L433.84,80.09 L434.93,77.4 L436.02,74.78 L437.11,72.21 L438.2,69.71 L439.3,67.28 L440.39,64.91 L441.48,62.6 L442.57,60.36 L443.66,58.18 L444.76,56.07 L445.85,54.01 L446.94,52.02 L448.03,50.09 L449.12,48.22 L450.22,46.4 L451.31,44.65 L452.4,42.94 L453.49,41.3 L454.58,39.7 L455.68,38.16 L456.77,36.66 L457.86,35.22 L458.95,33.82 L460.04,32.46 L461.14,31.16 L462.23,29.89 L463.32,28.67 L464.41,27.48 L465.5,26.34 L466.6,25.23 L467.69,24.16 L468.28,23.6" stroke="#9dd5b2" stroke-width="1.2"/>
</g>
<path d="M370.5,186.04h1.8M370.5,176.49h3.6M370.5,166.93h1.8M370.5,157.38h3.6M370.5,147.82h1.8M370.5,138.27h3.6M370.5,128.71h1.8M370.5,119.16h3.6M370.5,109.6h1.8M370.5,100.04h3.6M370.5,90.49h1.8M370.5,80.93h3.6M370.5,71.38h1.8M370.5,61.82h3.6M370.5,52.27h1.8M370.5,42.71h3.6M370.5,33.16h1.8M397.8,195.6v-1.8M425.1,195.6v-3.6M452.4,195.6v-1.8M479.7,195.6v-3.6M507,195.6v-1.8M534.3,195.6v-3.6M561.6,195.6v-1.8M588.9,195.6v-3.6M616.2,195.6v-1.8M643.5,195.6v-3.6" stroke="#333" stroke-width="1" fill="none"/>
<rect x="370.5" y="23.6" width="277.9" height="172" fill="none" stroke="#444" stroke-width="1.2"/>
<text transform="translate(365.8,197.8) scale(1,0.94)" font-size="7.3" text-anchor="end" fill="#222">0.0</text>
<text transform="translate(365.8,178.69) scale(1,0.94)" font-size="7.3" text-anchor="end" fill="#222">0.1</text>
<text transform="translate(365.8,159.58) scale(1,0.94)" font-size="7.3" text-anchor="end" fill="#222">0.2</text>
<text transform="translate(365.8,140.47) scale(1,0.94)" font-size="7.3" text-anchor="end" fill="#222">0.3</text>
<text transform="translate(365.8,121.36) scale(1,0.94)" font-size="7.3" text-anchor="end" fill="#222">0.4</text>
<text transform="translate(365.8,102.24) scale(1,0.94)" font-size="7.3" text-anchor="end" fill="#222">0.5</text>
<text transform="translate(365.8,83.13) scale(1,0.94)" font-size="7.3" text-anchor="end" fill="#222">0.6</text>
<text transform="translate(365.8,64.02) scale(1,0.94)" font-size="7.3" text-anchor="end" fill="#222">0.7</text>
<text transform="translate(365.8,44.91) scale(1,0.94)" font-size="7.3" text-anchor="end" fill="#222">0.8</text>
<text transform="translate(365.8,25.8) scale(1,0.94)" font-size="7.3" text-anchor="end" fill="#222">0.9</text>
<text transform="translate(370.5,204.0) scale(1,0.94)" font-size="7.3" text-anchor="middle" fill="#222">0</text>
<text transform="translate(425.1,204.0) scale(1,0.94)" font-size="7.3" text-anchor="middle" fill="#222">100</text>
<text transform="translate(479.7,204.0) scale(1,0.94)" font-size="7.3" text-anchor="middle" fill="#222">200</text>
<text transform="translate(534.3,204.0) scale(1,0.94)" font-size="7.3" text-anchor="middle" fill="#222">300</text>
<text transform="translate(588.9,204.0) scale(1,0.94)" font-size="7.3" text-anchor="middle" fill="#222">400</text>
<text transform="translate(643.5,204.0) scale(1,0.94)" font-size="7.3" text-anchor="middle" fill="#222">500</text>
<text x="509.4" y="219.8" font-size="11.5" text-anchor="middle" fill="#111">Time/s</text>
<text transform="translate(353.4,109.3) rotate(-90)" font-size="10.6" text-anchor="middle" fill="#111">Creep/mm</text>
</svg></body></html>
